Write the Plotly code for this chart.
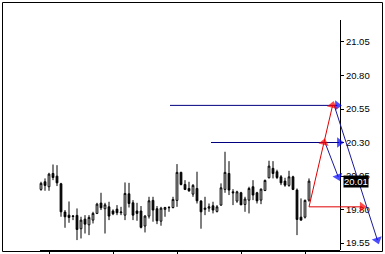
import plotly.graph_objects as go

# ---- candle data (index 0..67) ----
opens = [19.950, 20.007, 19.970, 20.069, 20.049, 19.992, 19.781, 19.758, 19.748, 19.756,
         19.657, 19.728, 19.686, 19.721, 19.771, 19.848, 19.806, 19.820, 19.789, 19.803,
         19.776, 19.758, 19.917, 19.850, 19.789, 19.789, 19.677, 19.751, 19.868, 19.806,
         19.713, 19.801, 19.813, 19.815, 19.868, 20.077, 19.987, 19.957, 19.915, 19.957,
         19.863, 19.801, 19.810, 19.828, 19.786, 19.833, 19.950, 20.069, 19.932, 19.863,
         19.925, 19.838, 19.870, 19.970, 19.925, 19.870, 19.942, 20.037, 20.107, 20.082,
         20.044, 20.012, 19.980, 20.044, 19.945, 19.743, 19.743, 19.870]
highs = [20.007, 20.032, 20.074, 20.136, 20.131, 19.999, 19.796, 19.860, 19.758, 19.808,
         19.746, 19.758, 19.758, 19.783, 19.850, 19.925, 19.850, 19.858, 19.801, 19.833,
         19.820, 20.002, 19.999, 19.870, 19.850, 19.826, 19.758, 19.895, 19.895, 19.826,
         19.820, 19.820, 19.826, 19.895, 20.139, 20.082, 20.019, 20.007, 19.990, 20.082,
         19.870, 19.895, 19.845, 19.858, 19.833, 19.995, 20.231, 20.161, 19.952, 19.940,
         19.932, 19.895, 19.970, 20.019, 19.932, 19.957, 20.024, 20.164, 20.161, 20.097,
         20.057, 20.037, 20.089, 20.052, 19.957, 19.883, 19.875, 20.032]
lows = [19.940, 19.940, 19.940, 20.019, 19.975, 19.746, 19.664, 19.701, 19.721, 19.572,
        19.584, 19.621, 19.609, 19.696, 19.766, 19.796, 19.621, 19.721, 19.758, 19.758,
        19.758, 19.721, 19.815, 19.721, 19.716, 19.659, 19.629, 19.733, 19.709, 19.691,
        19.679, 19.746, 19.783, 19.808, 19.820, 19.980, 19.945, 19.932, 19.895, 19.845,
        19.657, 19.758, 19.783, 19.771, 19.778, 19.828, 19.925, 19.908, 19.833, 19.850,
        19.833, 19.783, 19.771, 19.870, 19.845, 19.840, 19.937, 20.032, 20.032, 20.027,
        19.982, 19.970, 19.970, 19.945, 19.609, 19.716, 19.733, 19.858]
closes = [19.995, 19.980, 20.064, 20.039, 19.999, 19.783, 19.746, 19.741, 19.751, 19.651,
          19.721, 19.691, 19.741, 19.771, 19.840, 19.813, 19.835, 19.751, 19.768, 19.776,
          19.781, 19.920, 19.845, 19.758, 19.771, 19.667, 19.751, 19.865, 19.796, 19.716,
          19.810, 19.815, 19.815, 19.875, 20.077, 19.987, 19.950, 19.940, 19.980, 19.865,
          19.783, 19.810, 19.820, 19.796, 19.820, 19.962, 20.077, 19.945, 19.925, 19.932,
          19.835, 19.878, 19.957, 19.908, 19.865, 19.952, 20.017, 20.124, 20.069, 20.039,
          19.999, 19.982, 20.044, 19.950, 19.726, 19.721, 19.868, 20.012]
idx = list(range(len(opens)))

# ---- axis ----
y_ticks = [21.05, 20.80, 20.55, 20.30, 20.05, 19.80, 19.55]
x_ticks = [2, 18, 34, 50, 66]

# ---- projection drawing (x in bar index units, y in price) ----
red_up_x = [67, 70.75, 72.9]
red_up_y = [19.82, 20.30, 20.577]
red_h_x = [67, 80.3]
red_h_y = [19.82, 19.82]
blue_h1_x = [32.25, 74.1]
blue_h1_y = [20.577, 20.577]
blue_h2_x = [42.5, 74.6]
blue_h2_y = [20.30, 20.30]
blue_d1_x = [71, 74.3]
blue_d1_y = [20.30, 20.044]
blue_d2_x = [73.3, 84.1]
blue_d2_y = [20.577, 19.572]

fig = go.Figure()
fig.add_trace(go.Candlestick(
    x=idx, open=opens, high=highs, low=lows, close=closes,
    increasing=dict(line=dict(color="black", width=1), fillcolor="white"),
    decreasing=dict(line=dict(color="black", width=1), fillcolor="black"),
    whiskerwidth=0, showlegend=False, hoverinfo="skip"))

def arrow_line(xs, ys, lcolor, mcolor, head_at):
    sizes = [9 if i in head_at else 0 for i in range(len(xs))]
    fig.add_trace(go.Scatter(
        x=xs, y=ys, mode="lines+markers",
        line=dict(color=lcolor, width=1),
        marker=dict(symbol="triangle-up", size=sizes, color=mcolor,
                    angleref="previous", line=dict(width=0)),
        cliponaxis=False, showlegend=False, hoverinfo="skip"))

arrow_line(blue_h1_x, blue_h1_y, "#000080", "#0000ff", [1])
arrow_line(blue_h2_x, blue_h2_y, "#000080", "#0000ff", [1])
arrow_line(blue_d1_x, blue_d1_y, "#1a1a9a", "#0000ff", [1])
arrow_line(blue_d2_x, blue_d2_y, "#1a1a9a", "#0000ff", [1])
arrow_line(red_h_x, red_h_y, "#e00000", "#ff0000", [1])
arrow_line(red_up_x, red_up_y, "#e00000", "#ff0000", [1, 2])

W, H = 385, 254
ml, mr, mt, mb = 0, 0, 20, 4
plot_w = W - ml - mr
plot_h = H - mt - mb
axis_px = 340
pos = (axis_px - ml) / plot_w

x0_px, x_step = 41, 4
x_range = [(-x0_px) / x_step, (plot_w - x0_px) / x_step]
y_range = [19.498, 21.214]

fig.update_layout(
    width=W, height=H,
    margin=dict(l=ml, r=mr, t=mt, b=mb),
    paper_bgcolor="white", plot_bgcolor="white",
    boxgap=0.38,
    font=dict(family="Liberation Sans", size=10, color="black"),
    xaxis=dict(range=x_range, showgrid=False, zeroline=False, showline=False,
               rangeslider=dict(visible=False), tickmode="array",
               tickvals=x_ticks, showticklabels=False, ticks="outside",
               ticklen=3, tickcolor="black", fixedrange=True),
    yaxis=dict(range=y_range, showgrid=False, zeroline=False, showline=True,
               linecolor="black", linewidth=1, anchor="free", position=pos,
               side="right", tickmode="array", tickvals=y_ticks,
               ticktext=[f"{v:.2f}" for v in y_ticks], ticks="outside",
               ticklen=3, tickcolor="black", layer="below traces",
               tickfont=dict(family="Liberation Sans", size=9.5)),
    shapes=[
        dict(type="line", xref="x", yref="paper", x0=-0.25, x1=(axis_px - x0_px) / x_step,
             y0=-0.5 / plot_h, y1=-0.5 / plot_h, line=dict(color="black", width=1)),
        dict(type="rect", xref="paper", yref="paper",
             x0=2.5 / plot_w, x1=382.5 / plot_w,
             y0=(H - mb - 251.5) / plot_h, y1=(H - mb - 2.5) / plot_h,
             line=dict(color="black", width=1)),
    ],
    annotations=[dict(xref="paper", yref="y", x=pos, y=closes[-1],
                      text=f"{closes[-1]:.2f}", showarrow=False, xanchor="left",
                      xshift=3, bgcolor="black", borderpad=0,
                      font=dict(color="white", family="Liberation Sans", size=9.5))],
)

fig.write_html("out.html", config={"displayModeBar": False})
